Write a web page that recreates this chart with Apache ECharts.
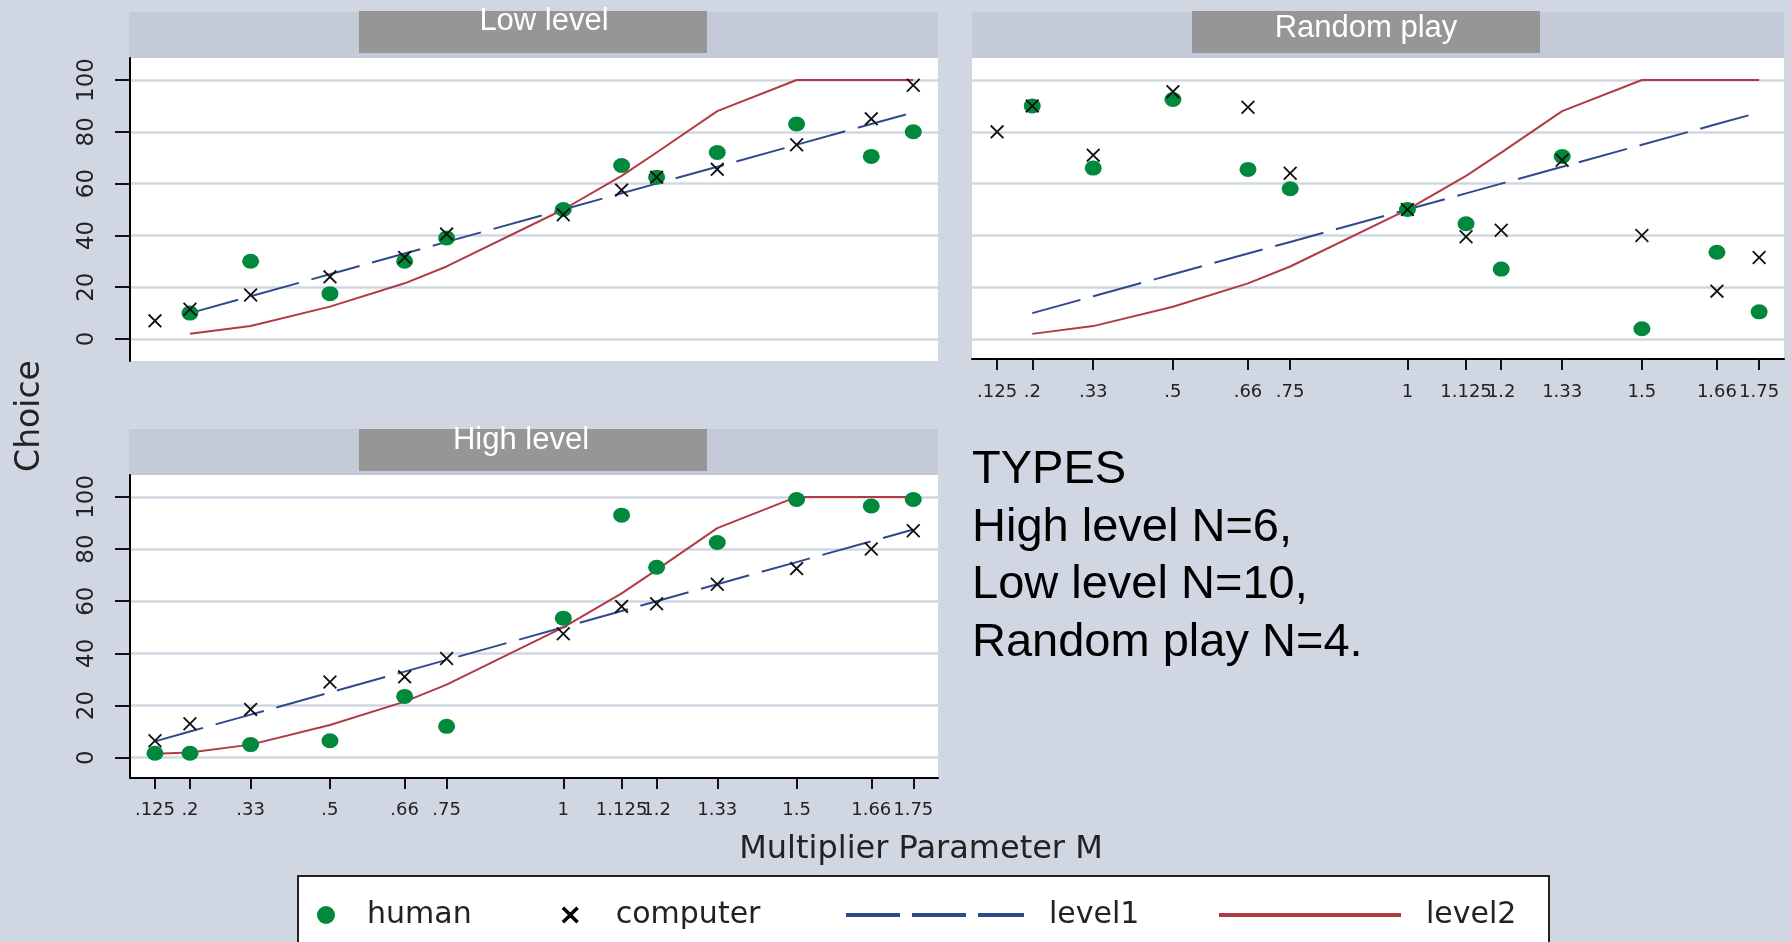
<!DOCTYPE html>
<html><head><meta charset="utf-8">
<script src="https://cdn.jsdelivr.net/npm/echarts@6/dist/echarts.min.js"></script>
<style>html,body{margin:0;padding:0;background:#d0d7e3;}#c{width:1791px;height:942px;}</style>
</head><body><div id="c"></div>
<script>
// ---- data ----
const mValues = [0.125, 0.2, 0.33, 0.5, 0.66, 0.75, 1, 1.125, 1.2, 1.33, 1.5, 1.66, 1.75];
const tickLabels = ['.125', '.2', '.33', '.5', '.66', '.75', '1', '1.125', '1.2', '1.33', '1.5', '1.66', '1.75'];
const yTicks = [0, 20, 40, 60, 80, 100];
const panelTitles = ['Low level', 'Random play', 'High level'];

const lowHuman     = [null, 10, 30, 17.5, 30, 39, 50, 67, 62.5, 72, 83, 70.5, 80];
const lowComputer  = [7, 11.5, 17, 24, 31.5, 40.5, 48, 57.5, 62.5, 65.5, 75, 85, 98];
const randHuman    = [null, 90, 66, 92.5, 65.5, 58, 50, 44.5, 27, 70.5, 4, 33.5, 10.5];
const randComputer = [80, 90, 71, 95.5, 89.5, 64, 50, 39.5, 42, 69, 40, 18.5, 31.5];
const highHuman    = [1.7, 1.7, 5, 6.5, 23.5, 12, 53.5, 93, 73, 82.5, 99, 96.5, 99];
const highComputer = [6.5, 13, 18.5, 29, 31, 38, 47.5, 58, 59, 66.5, 72.5, 80, 87];

const level1Top  = [null, 10, 16.5, 25, 33, 37.5, 50, 56.25, 60, 66.5, 75, 83, 87.5];
const level2Top  = [null, 2, 5, 12.5, 21.5, 28, 50, 63, 72, 88, 100, 100, 100];
const level1High = [6.25, 10, 16.5, 25, 33, 37.5, 50, 56.25, 60, 66.5, 75, 83, 87.5];
const level2High = [1.5, 2, 5, 12.5, 21.5, 28, 50, 63, 72, 88, 100, 100, 100];

const typesText = ['TYPES', 'High level N=6,', 'Low level N=10,', 'Random play N=4.'];

// ---- chart ----
const panels = [
  {human: lowHuman,  computer: lowComputer,  l1: level1Top,  l2: level2Top},
  {human: randHuman, computer: randComputer, l1: level1Top,  l2: level2Top},
  {human: highHuman, computer: highComputer, l1: level1High, l2: level2High}
];
const pairs = arr => mValues.map((m, k) => [m, arr[k]]);
const pairsNoNull = arr => pairs(arr).filter(p => p[1] != null);

const GREEN = '#00883d', BLUE = '#2f4a8c', RED = '#b23a44';
const X_PATH = 'path://M0,1.3L1.3,0L7,5.7L12.7,0L14,1.3L8.3,7L14,12.7L12.7,14L7,8.3L1.3,14L0,12.7L5.7,7Z';
const LABEL_FONT = 'DejaVu Sans';

const grids = [
  {left: 130, top: 58, width: 808, height: 303},
  {left: 972, top: 58, width: 812, height: 301},
  {left: 130, top: 475, width: 808, height: 303}
].map(g => Object.assign(g, {show: true, backgroundColor: '#ffffff', borderWidth: 0, containLabel: false}));

const yRanges = [[-8.5, 108.5], [-7.7, 108.5], [-7.8, 108.4]];
const showX = [false, true, true];
const showY = [true, false, true];
const xMargins = [23, 24, 23];

function fmtX(v) {
  const i = mValues.findIndex(m => Math.abs(m - v) < 1e-6);
  return i >= 0 ? tickLabels[i] : '';
}

const xAxes = grids.map((g, i) => ({
  type: 'value', gridIndex: i, min: 0.0715, max: 1.803,
  axisLine: {show: showX[i], onZero: false, lineStyle: {color: '#000', width: 2}},
  axisTick: {show: showX[i], customValues: mValues, length: 11, lineStyle: {color: '#111', width: 2}},
  axisLabel: {show: showX[i], customValues: mValues, formatter: fmtX, margin: xMargins[i],
    fontFamily: LABEL_FONT, fontSize: 18, color: '#222', hideOverlap: false},
  splitLine: {show: false}
}));
const yAxes = grids.map((g, i) => ({
  type: 'value', gridIndex: i, min: yRanges[i][0], max: yRanges[i][1],
  axisLine: {show: showY[i], onZero: false, lineStyle: {color: '#000', width: 2}},
  axisTick: {show: showY[i], customValues: yTicks, length: 15, lineStyle: {color: '#111', width: 2}},
  axisLabel: {show: showY[i], customValues: yTicks, rotate: 90, margin: 31,
    fontFamily: LABEL_FONT, fontSize: 23, color: '#222'},
  splitLine: {show: false}
}));

const series = [];
panels.forEach((p, i) => {
  series.push({
    type: 'line', name: 'gridlines' + i, xAxisIndex: i, yAxisIndex: i, data: [], z: 0,
    silent: true,
    markLine: {silent: true, z: 0, symbol: ['none', 'none'], label: {show: false}, animation: false,
      lineStyle: {color: '#d0d7e3', width: 2.5, type: 'solid'},
      emphasis: {disabled: true},
      data: yTicks.map(v => ({yAxis: v}))}
  });
  series.push({
    type: 'line', name: 'level1', xAxisIndex: i, yAxisIndex: i, data: pairs(p.l1), z: 2,
    symbol: 'none', showSymbol: false, connectNulls: false,
    lineStyle: {color: BLUE, width: 2, type: [50, 13]}, itemStyle: {color: BLUE},
    emphasis: {disabled: true}
  });
  series.push({
    type: 'line', name: 'level2', xAxisIndex: i, yAxisIndex: i, data: pairs(p.l2), z: 2,
    symbol: 'none', showSymbol: false, connectNulls: false,
    lineStyle: {color: RED, width: 2, type: 'solid'}, itemStyle: {color: RED},
    emphasis: {disabled: true}
  });
  series.push({
    type: 'scatter', name: 'human', xAxisIndex: i, yAxisIndex: i, data: pairsNoNull(p.human), z: 3,
    symbol: 'circle', symbolSize: [17, 15], itemStyle: {color: GREEN, opacity: 1},
    emphasis: {disabled: true}
  });
  series.push({
    type: 'scatter', name: 'computer', xAxisIndex: i, yAxisIndex: i, data: pairsNoNull(p.computer), z: 4,
    symbol: X_PATH, symbolSize: 14, itemStyle: {color: '#111', opacity: 1},
    emphasis: {disabled: true}
  });
});

const legendBase = {
  orient: 'horizontal', top: 899, padding: 0, selectedMode: false,
  textStyle: {fontFamily: LABEL_FONT, fontSize: 30, color: '#222', lineHeight: 32}
};
const hiddenSymbol = {color: 'rgba(0,0,0,0)', borderColor: 'rgba(0,0,0,0)', borderWidth: 0, opacity: 0};
const legends = [
  Object.assign({}, legendBase, {left: 317, data: ['human'], itemWidth: 18, itemHeight: 18,
    textStyle: Object.assign({}, legendBase.textStyle, {padding: [0, 0, 0, 27]})}),
  Object.assign({}, legendBase, {left: 562, data: ['computer'], itemWidth: 15, itemHeight: 15,
    itemStyle: {borderColor: '#000', borderWidth: 1.5},
    textStyle: Object.assign({}, legendBase.textStyle, {padding: [0, 0, 0, 33]})}),
  Object.assign({}, legendBase, {left: 844, data: ['level1'], itemWidth: 178, itemHeight: 16,
    lineStyle: {width: 4, type: [54, 12]}, itemStyle: hiddenSymbol,
    textStyle: Object.assign({}, legendBase.textStyle, {padding: [0, 0, 0, 20]})}),
  Object.assign({}, legendBase, {left: 1217, data: ['level2'], itemWidth: 182, itemHeight: 16,
    lineStyle: {width: 4}, itemStyle: hiddenSymbol,
    textStyle: Object.assign({}, legendBase.textStyle, {padding: [0, 0, 0, 20]})})
];

const STRIP = '#c4cad8', TBOX = '#969696';
const graphic = [
  // header strips
  {type: 'rect', shape: {x: 129, y: 12, width: 809, height: 46}, style: {fill: STRIP}, z: -1},
  {type: 'rect', shape: {x: 972, y: 12, width: 812, height: 46}, style: {fill: STRIP}, z: -1},
  {type: 'rect', shape: {x: 129, y: 429, width: 809, height: 46}, style: {fill: STRIP}, z: -1},
  // title boxes
  {type: 'rect', shape: {x: 359, y: 11, width: 348, height: 42}, style: {fill: TBOX}, z: 0},
  {type: 'rect', shape: {x: 1192, y: 11, width: 348, height: 42}, style: {fill: TBOX}, z: 0},
  {type: 'rect', shape: {x: 359, y: 429, width: 348, height: 42}, style: {fill: TBOX}, z: 0},
  {type: 'text', x: 544, y: 21, z: 1, style: {text: panelTitles[0], fill: '#fff', font: '31px "Liberation Sans"', textAlign: 'center', textVerticalAlign: 'middle'}},
  {type: 'text', x: 1366, y: 28, z: 1, style: {text: panelTitles[1], fill: '#fff', font: '31px "Liberation Sans"', textAlign: 'center', textVerticalAlign: 'middle'}},
  {type: 'text', x: 521, y: 440, z: 1, style: {text: panelTitles[2], fill: '#fff', font: '31px "Liberation Sans"', textAlign: 'center', textVerticalAlign: 'middle'}},
  // axis names
  {type: 'text', x: 30, y: 416, rotation: Math.PI / 2, z: 1, style: {text: 'Choice', fill: '#222', font: '33px "DejaVu Sans"', textAlign: 'center', textVerticalAlign: 'middle'}},
  {type: 'text', x: 921, y: 850, z: 1, style: {text: 'Multiplier Parameter M', fill: '#222', font: '32px "DejaVu Sans"', textAlign: 'center', textVerticalAlign: 'middle'}},
  // types note
  {type: 'text', x: 972, y: 441, z: 1, style: {text: typesText.join('\n'), fill: '#000', font: '47px "Liberation Sans"', lineHeight: 57.7, textAlign: 'left', textVerticalAlign: 'top'}},
  // legend box
  {type: 'rect', shape: {x: 298, y: 876, width: 1251, height: 90}, style: {fill: '#fff', stroke: '#222', lineWidth: 2}, z: 0}
];

const chart = echarts.init(document.getElementById('c'), null, {renderer: 'canvas'});
chart.setOption({
  backgroundColor: '#d0d7e3',
  animation: false,
  grid: grids,
  xAxis: xAxes,
  yAxis: yAxes,
  legend: legends,
  graphic: graphic,
  series: series
});
</script></body></html>
